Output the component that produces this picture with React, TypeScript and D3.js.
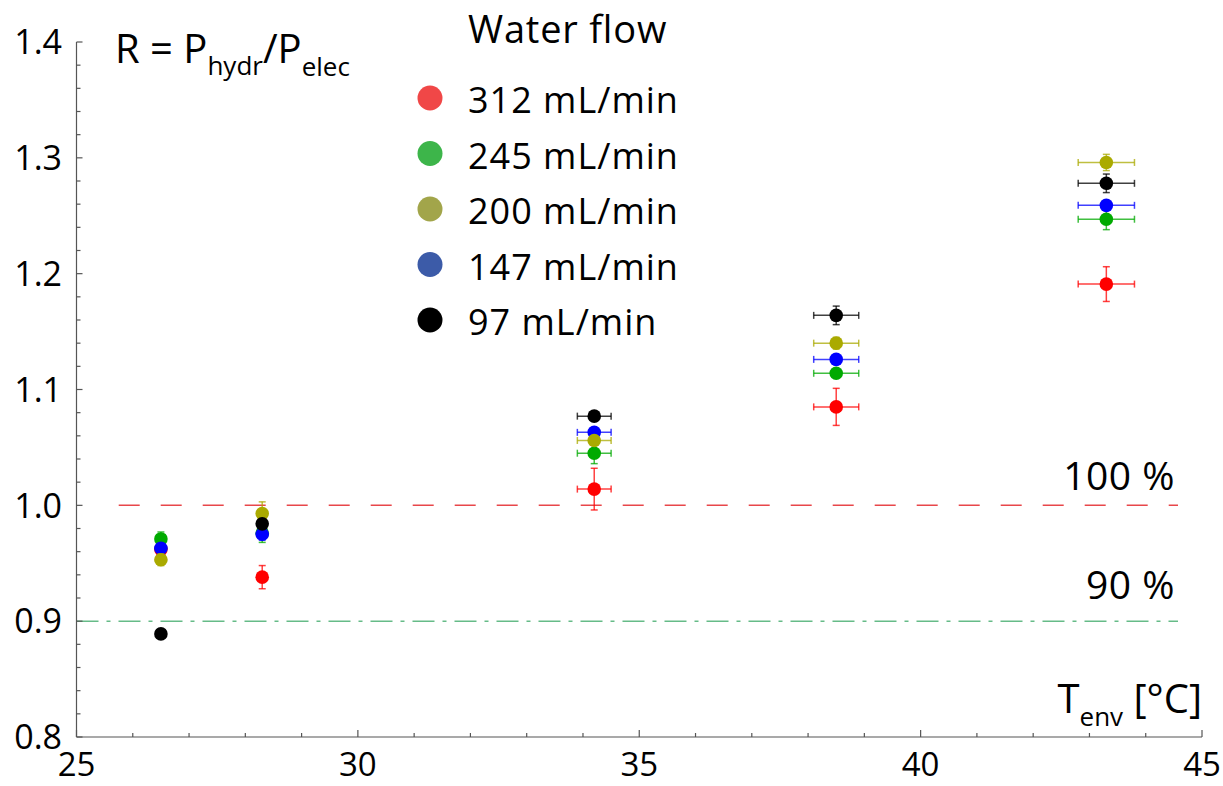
import React from "react";
import { scaleLinear, range } from "d3";

// ambient temperature of each measurement run [°C] and its uncertainty
const temps = [26.5, 28.3, 34.2, 38.5, 43.3];
const tempErr = [0, 0, 0.3, 0.4, 0.5];

const flowLabels = ["312 mL/min", "245 mL/min", "200 mL/min", "147 mL/min", "97 mL/min"];
const legendColors = ["#f04747", "#3db54a", "#a2a54a", "#3c5ba8", "#000000"];
const pointColors = ["#ff0000", "#00aa00", "#aaaa00", "#0000ff", "#000000"];

// R = P_hydr / P_elec for each flow
const r312 = [0.962, 0.938, 1.014, 1.085, 1.191];
const r245 = [0.971, 0.976, 1.045, 1.114, 1.247];
const r200 = [0.953, 0.993, 1.056, 1.14, 1.296];
const r147 = [0.963, 0.975, 1.063, 1.126, 1.259];
const r97 = [0.889, 0.984, 1.077, 1.164, 1.278];

const e312 = [0.009, 0.01, 0.018, 0.016, 0.015];
const e245 = [0.006, 0.008, 0.009, 0.003, 0.009];
const e200 = [0.005, 0.01, 0.004, 0.005, 0.007];
const e147 = [0.004, 0.005, 0.003, 0.003, 0.004];
const e97 = [0.002, 0.004, 0.004, 0.008, 0.008];

const values = [r312, r245, r200, r147, r97];
const errors = [e312, e245, e200, e147, e97];
// red, green, blue, olive, black  (later ones sit on top)
const drawOrder = [0, 1, 3, 2, 4];

const xTicks = [25, 30, 35, 40, 45];
const yTicks = [0.8, 0.9, 1.0, 1.1, 1.2, 1.3, 1.4];

const font = "'Open Sans', sans-serif";

export default function App() {
  const x = scaleLinear().domain([25, 45]).range([76.5, 1202]);
  const y = scaleLinear().domain([0.8, 1.4]).range([737, 42]);
  const axisColor = "#555";

  const xMinor = range(25, 45.01, 1);
  const yMinor = range(0.8, 1.401, 0.02);

  return (
    <div style={{ position: "absolute", left: 0, top: 0 }}>
      <svg width={1223} height={786} style={{ display: "block", background: "#fff" }} fontFamily={font}>
        {/* reference lines */}
        <line x1={x(25.75)} x2={1178} y1={y(1.0)} y2={y(1.0)}
          stroke="#e8474a" strokeWidth={1.5} strokeDasharray="21 21" />
        <line x1={x(25)} x2={1178} y1={y(0.9)} y2={y(0.9)}
          stroke="#66bb88" strokeWidth={1.5} strokeDasharray="22 8 4 8" />
        <text x={1175} y={490} fontSize={39} textAnchor="end" letterSpacing={0.5}>100 %</text>
        <text x={1175} y={599} fontSize={39} textAnchor="end" letterSpacing={0.5}>90 %</text>

        {/* axes */}
        <g stroke={axisColor} strokeWidth={1.2}>
          <line x1={x(25)} x2={x(25)} y1={y(0.8)} y2={y(1.4)} />
          <line x1={x(25)} x2={x(45)} y1={y(0.8)} y2={y(0.8)} />
          {yMinor.map((v, i) => (
            <line key={"ym" + i} x1={x(25)} x2={x(25) + (i % 5 === 0 ? 6 : 4)} y1={y(v)} y2={y(v)} />
          ))}
          {xMinor.map((v, i) => (
            <line key={"xm" + i} x1={x(v)} x2={x(v)} y1={y(0.8)} y2={y(0.8) - (i % 5 === 0 ? 7 : 4)} />
          ))}
        </g>
        {yTicks.map((v) => (
          <text key={"yl" + v} x={62} y={y(v)} dy="0.36em" fontSize={34} textAnchor="end">
            {v.toFixed(1)}
          </text>
        ))}
        {xTicks.map((v) => (
          <text key={"xl" + v} x={x(v)} y={776} fontSize={33} textAnchor="middle">
            {v}
          </text>
        ))}

        {/* axis titles */}
        <text x={115} y={63} fontSize={40}>
          R = P<tspan fontSize={26} dy={12}>hydr</tspan>
          <tspan dy={-12}>/P</tspan>
          <tspan fontSize={26} dy={13}>elec</tspan>
        </text>
        <text x={1202} y={713} fontSize={40} textAnchor="end">
          T<tspan fontSize={26} dy={13}>env</tspan>
          <tspan dy={-13}> [°C]</tspan>
        </text>

        {/* legend */}
        <text x={468} y={43} fontSize={38} letterSpacing={0.8}>Water flow</text>
        {flowLabels.map((lab, i) => (
          <g key={lab}>
            <circle cx={430} cy={98 + i * 55.5} r={12.5} fill={legendColors[i]} />
            <text x={468} y={113 + i * 55.5} fontSize={36} letterSpacing={1}>{lab}</text>
          </g>
        ))}

        {/* data with error bars */}
        {drawOrder.map((s) => (
          <g key={"s" + s} stroke={pointColors[s]} fill={pointColors[s]}>
            {temps.map((t, i) => {
              const cx = x(t);
              const cy = y(values[s][i]);
              const yTop = y(values[s][i] + errors[s][i]);
              const yBot = y(values[s][i] - errors[s][i]);
              const xl = x(t - tempErr[i]);
              const xr = x(t + tempErr[i]);
              return (
                <g key={i}>
                  <g strokeWidth={1.5} strokeOpacity={0.75}>
                    <line x1={cx} x2={cx} y1={yTop} y2={yBot} />
                    <line x1={cx - 3.5} x2={cx + 3.5} y1={yTop} y2={yTop} />
                    <line x1={cx - 3.5} x2={cx + 3.5} y1={yBot} y2={yBot} />
                    {tempErr[i] > 0 && (
                      <>
                        <line x1={xl} x2={xr} y1={cy} y2={cy} />
                        <line x1={xl} x2={xl} y1={cy - 3.5} y2={cy + 3.5} />
                        <line x1={xr} x2={xr} y1={cy - 3.5} y2={cy + 3.5} />
                      </>
                    )}
                  </g>
                  <circle cx={cx} cy={cy} r={6.8} stroke="none" />
                </g>
              );
            })}
          </g>
        ))}
      </svg>
    </div>
  );
}
